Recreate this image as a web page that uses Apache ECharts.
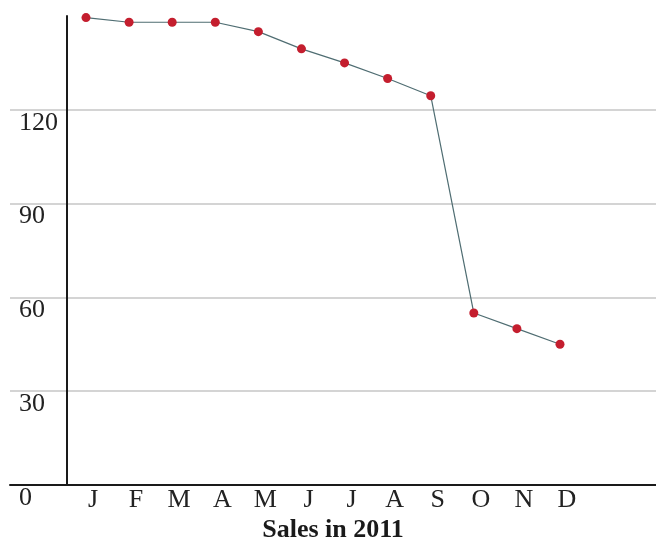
<!DOCTYPE html>
<html>
<head>
<meta charset="utf-8">
<script src="https://cdn.jsdelivr.net/npm/echarts@6/dist/echarts.min.js"></script>
<style>
html,body{margin:0;padding:0;background:#fff;}
#chart{width:656px;height:548px;}
</style>
</head>
<body>
<div id="chart"></div>
<script>
var months = ['J','F','M','A','M','J','J','A','S','O','N','D'];
var sales = [149.5, 148, 148, 148, 145, 139.5, 135, 130, 124.5, 55, 50, 45];
var yMin = 0, yMax = 150, yStep = 30;
var xTitle = 'Sales in 2011';

var FONT = 'Liberation Serif';
var chart = echarts.init(document.getElementById('chart'));
chart.setOption({
  animation: false,
  backgroundColor: '#fff',
  grid: [
    {left: 10, right: 0, top: 16, bottom: 63},
    {left: 86, right: 96, top: 16, bottom: 63}
  ],
  xAxis: [
    {
      gridIndex: 0, type: 'value', min: 0, max: 1,
      axisLine: {show: true, lineStyle: {color: '#1a1a1a', width: 2}},
      axisTick: {show: false}, axisLabel: {show: false}, splitLine: {show: false},
      name: xTitle, nameLocation: 'middle', nameGap: 32,
      nameTextStyle: {fontFamily: FONT, fontSize: 26, fontWeight: 'bold', color: '#1a1a1a'}
    },
    {
      gridIndex: 1, type: 'category', data: months, boundaryGap: false,
      axisLine: {show: false}, axisTick: {show: false}, splitLine: {show: false},
      axisLabel: {fontFamily: FONT, fontSize: 26, color: '#222', margin: 2, padding: [0, 0, 0, 14]}
    }
  ],
  yAxis: [
    {
      gridIndex: 0, type: 'value', min: yMin, max: yMax, interval: yStep,
      axisLine: {show: false}, axisTick: {show: false}, axisLabel: {show: false},
      splitLine: {show: true, showMinLine: false, showMaxLine: false, lineStyle: {color: '#c6c6c6', width: 1.5}}
    },
    {
      gridIndex: 1, type: 'value', min: yMin, max: yMax, interval: yStep, offset: 19,
      axisLine: {show: true, lineStyle: {color: '#1a1a1a', width: 2}},
      axisTick: {show: false}, splitLine: {show: false},
      axisLabel: {
        fontFamily: FONT, fontSize: 26, color: '#222', margin: 48, align: 'left',
        verticalAlign: 'top', showMaxLabel: false
      }
    }
  ],
  series: [{
    type: 'line', xAxisIndex: 1, yAxisIndex: 1, data: sales,
    symbol: 'circle', symbolSize: 9,
    itemStyle: {color: '#c41e2e'},
    lineStyle: {color: '#4f6d72', width: 1.2},
    clip: false
  }]
});
</script>
</body>
</html>
